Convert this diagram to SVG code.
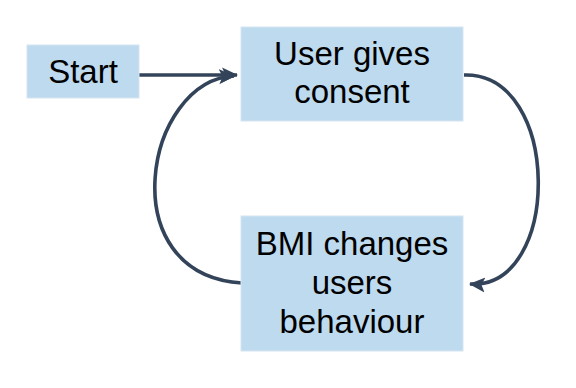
<svg xmlns="http://www.w3.org/2000/svg" width="576" height="388" viewBox="0 0 576 388">
<style>
.box{fill:#bddaee;stroke:#d6e6f2;stroke-width:1}
.lbl{font-family:"Liberation Sans",Arial,sans-serif;font-size:33px;fill:#000;text-anchor:middle}
.conn{fill:none;stroke:#33445a;stroke-width:3.6}
</style>
<defs>
<marker id="ah" markerUnits="userSpaceOnUse" markerWidth="18" markerHeight="18" viewBox="0 0 18 18" refX="15" refY="9" orient="auto">
<path d="M0,1.5 L16,9 L0,16.5 L3.5,9 Z" fill="#33445a"/>
</marker>
</defs>
<g id="connectors">
<path class="conn" d="M139,75 L237,75" marker-end="url(#ah)"/>
<path class="conn" d="M242,283 C110,275 145,80 234,76" marker-end="url(#ah)"/>
<path class="conn" d="M464,75 C562,72 562,290 470,284" marker-end="url(#ah)"/>
</g>
<g id="start">
<rect class="box" x="27" y="45" width="112" height="53"/>
<text class="lbl" x="83" y="83">Start</text>
</g>
<g id="consent">
<rect class="box" x="241" y="27" width="222" height="94"/>
<text class="lbl" x="352" y="65">User gives</text>
<text class="lbl" x="352" y="103">consent</text>
</g>
<g id="bmi">
<rect class="box" x="241" y="216" width="222" height="135"/>
<text class="lbl" x="352" y="255">BMI changes</text>
<text class="lbl" x="352" y="294">users</text>
<text class="lbl" x="352" y="333">behaviour</text>
</g>
</svg>
